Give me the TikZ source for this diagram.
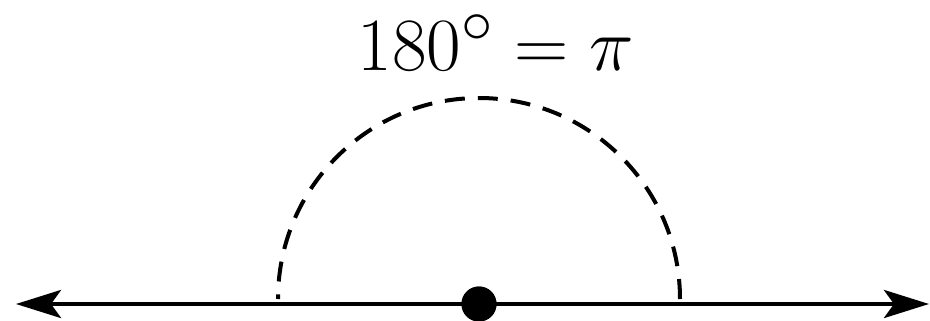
\documentclass[tikz,border=0pt]{standalone}
\usepackage{amsmath,amssymb}
\usepackage{graphicx}
\usepackage{tikz}
\usetikzlibrary{arrows.meta,positioning}

\begin{document}
\begin{tikzpicture}[
        % thick axis and a dashed arc of the same weight
        axis/.style={line width=0.09cm, {Stealth[length=0.9cm,width=0.56cm,inset=0.2cm]}-{Stealth[length=0.9cm,width=0.56cm,inset=0.2cm]}},
        halfarc/.style={line width=0.08cm, dash pattern=on 0.4cm off 0.26cm},
        vertex/.style={circle, fill=black, inner sep=0pt, minimum size=0.7cm},
        angletext/.style={font=\Huge, anchor=base, inner sep=0pt}
    ]
        \useasboundingbox (-9.58,-0.32) rectangle (9.02,6.08);
        \node[vertex] (center) at (0,0) {};
        \coordinate (leftend) at (-9.26,0);
        \coordinate (rightend) at (9.0,0);
        \node[angletext] (label) at (0.34,4.68) {\scalebox{1.72}{$180^\circ = \pi$}};

        % Connections
        \draw[axis] (leftend) -- (rightend);
        \draw[halfarc] (center) ++(4.02,0.1) arc[start angle=0, end angle=180, radius=4.02];
        \node[vertex] at (center) {};
    \end{tikzpicture}
\end{document}
